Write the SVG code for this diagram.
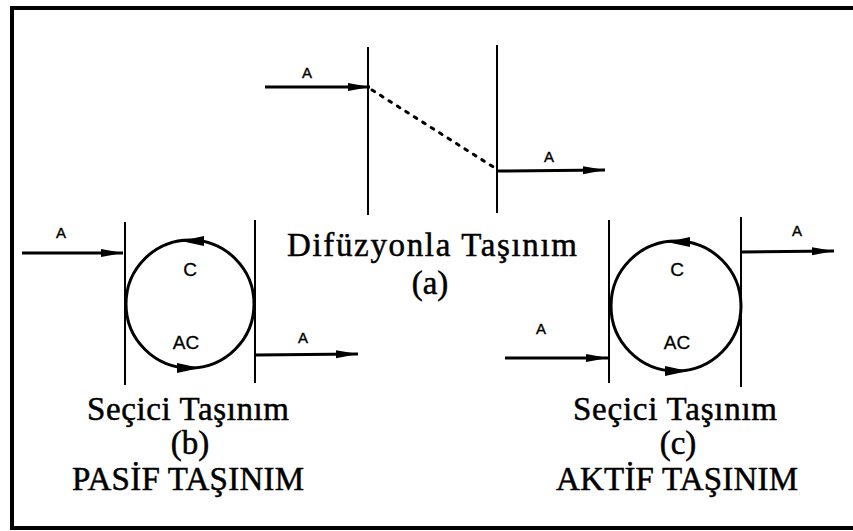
<svg xmlns="http://www.w3.org/2000/svg" width="853" height="531" viewBox="0 0 853 531">
<defs>
<style>
.frame{fill:none;stroke:#000;stroke-width:4}
.mem{stroke:#000;stroke-width:2;fill:none}
.flow{stroke:#000;stroke-width:3;fill:none}
.dot{stroke:#000;stroke-width:3;fill:none;stroke-dasharray:3 7;stroke-linecap:round}
.carrier{stroke:#000;stroke-width:3;fill:none}
.head{fill:#000}
.lbl{font-family:"Liberation Sans",Arial,sans-serif;font-size:15px;fill:#000;stroke:#000;stroke-width:0.4}
.in{font-family:"Liberation Sans",Arial,sans-serif;font-size:19px;fill:#000;stroke:#000;stroke-width:0.3}
.cap{font-family:"Liberation Serif","Times New Roman",serif;font-size:33px;fill:#000;stroke:#000;stroke-width:0.5;text-anchor:middle}
</style>
<marker id="arr" viewBox="0 0 22 10" refX="22" refY="5" markerWidth="22" markerHeight="10" markerUnits="userSpaceOnUse" orient="auto">
<path d="M0,1 L22,5 L0,9 Z" fill="#000"/>
</marker>
</defs>
<rect width="853" height="531" fill="#fff"/>
<g id="frame">
<path class="frame" d="M853,8 L12,8 L12,528 L853,528"/>
</g>

<g id="node-a">
<line class="mem" x1="368" y1="47" x2="368" y2="215"/>
<line class="mem" x1="497" y1="45" x2="497" y2="213"/>
<text class="lbl" x="302" y="78">A</text>
<text class="lbl" x="544" y="162">A</text>
<text class="cap" x="432" y="256" textLength="290" lengthAdjust="spacing">Difüzyonla Taşınım</text>
<text class="cap" x="430" y="294">(a)</text>
</g>

<g id="node-b">
<line class="mem" x1="125" y1="222" x2="125" y2="385"/>
<line class="mem" x1="255" y1="220" x2="255" y2="383"/>
<circle class="carrier" cx="190" cy="304" r="64"/>
<polygon class="head" points="181,241 204,236 204,246"/>
<polygon class="head" points="200,368 177,363 177,373"/>
<text class="in" x="190" y="276" text-anchor="middle">C</text>
<text class="in" x="186" y="349" text-anchor="middle">AC</text>
<text class="lbl" x="56" y="238">A</text>
<text class="lbl" x="298" y="343">A</text>
<text class="cap" x="188" y="420" textLength="202" lengthAdjust="spacing">Seçici Taşınım</text>
<text class="cap" x="190" y="454">(b)</text>
<text class="cap" x="188" y="490" textLength="232" lengthAdjust="spacing">PASİF TAŞINIM</text>
</g>

<g id="node-c">
<line class="mem" x1="609" y1="220" x2="609" y2="383"/>
<line class="mem" x1="741" y1="217" x2="741" y2="387"/>
<circle class="carrier" cx="676" cy="306" r="65"/>
<polygon class="head" points="667,242 690,237 690,247"/>
<polygon class="head" points="688,371 665,366 665,376"/>
<text class="in" x="677" y="276" text-anchor="middle">C</text>
<text class="in" x="677" y="349" text-anchor="middle">AC</text>
<text class="lbl" x="536" y="334">A</text>
<text class="lbl" x="792" y="236">A</text>
<text class="cap" x="675" y="420" textLength="204" lengthAdjust="spacing">Seçici Taşınım</text>
<text class="cap" x="678" y="454">(c)</text>
<text class="cap" x="677" y="490" textLength="242" lengthAdjust="spacing">AKTİF TAŞINIM</text>
</g>

<g id="connectors">
<line class="flow" x1="265" y1="87" x2="370" y2="87" marker-end="url(#arr)"/>
<line class="dot" x1="372" y1="90" x2="495" y2="168"/>
<line class="flow" x1="497" y1="171" x2="605" y2="170" marker-end="url(#arr)"/>
<line class="flow" x1="22" y1="253" x2="123" y2="253" marker-end="url(#arr)"/>
<line class="flow" x1="256" y1="355" x2="358" y2="354" marker-end="url(#arr)"/>
<line class="flow" x1="505" y1="358" x2="608" y2="358" marker-end="url(#arr)"/>
<line class="flow" x1="742" y1="252" x2="834" y2="251" marker-end="url(#arr)"/>
</g>
</svg>
